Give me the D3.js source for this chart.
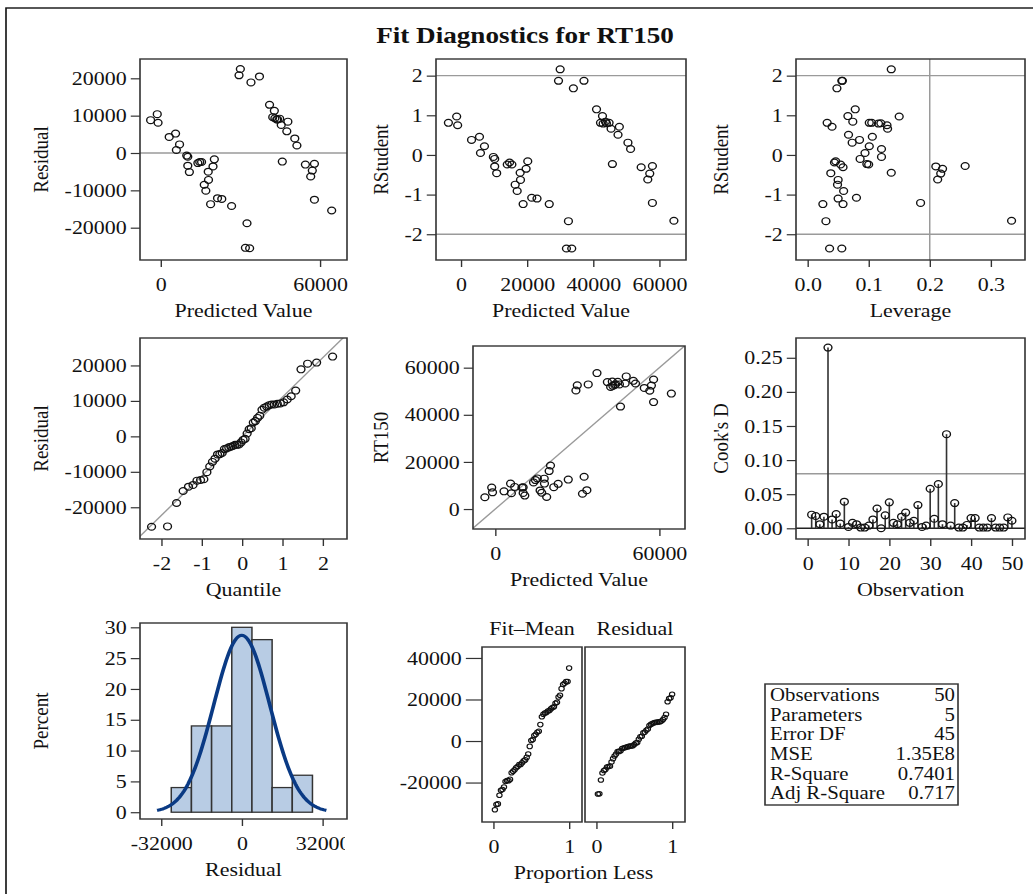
<!DOCTYPE html>
<html>
<head>
<meta charset="utf-8">
<title>Fit Diagnostics for RT150</title>
<style>
  body { margin: 0; background: #fff; }
  svg text { font-family: "Liberation Serif", "Times New Roman", serif; fill: #111; }
</style>
</head>
<body>
<script src="https://cdn.jsdelivr.net/npm/d3@7"></script>
<script>
// ---- values ----
var predicted = [-3800, -1300, -1000, 3200, 5600, 7100, 5900, 9800, 10200, 10200,
  10800, 14000, 14700, 15400, 20200, 19700, 17900, 18000, 16400, 17000,
  18800, 21400, 23000, 26700, 29500, 30000, 34000, 37200, 32500, 31900,
  33500, 41000, 42800, 42200, 43000, 43700, 44800, 45400, 47900, 47500,
  50500, 51300, 45800, 54500, 57900, 57100, 56500, 57900, 64400, 44000];
var residual = [8800, 10400, 8100, 4300, 5200, 2300, 800, -700, -1000, -3400,
  -5100, -2700, -2400, -2400, -1700, -3600, -5000, -7200, -8500, -10100,
  -13700, -12100, -12300, -14200, 20800, 22500, 18900, 20500, -18800, -25400,
  -25500, 12900, 11300, 9600, 9300, 9000, 9200, 7500, 8400, 5800,
  3900, 2000, -2300, -3100, -2900, -4700, -6300, -12500, -15400, 9000];
var rstudent = [0.81, 0.97, 0.75, 0.38, 0.46, 0.22, 0.05, -0.05, -0.10, -0.29,
  -0.46, -0.24, -0.19, -0.24, -0.16, -0.35, -0.45, -0.63, -0.75, -0.91,
  -1.24, -1.08, -1.10, -1.24, 1.87, 2.16, 1.68, 1.87, -1.67, -2.36,
  -2.36, 1.15, 0.98, 0.81, 0.79, 0.84, 0.81, 0.66, 0.71, 0.51,
  0.31, 0.15, -0.23, -0.31, -0.28, -0.47, -0.62, -1.21, -1.66, 0.80];
var leverage = [0.032, 0.150, 0.130, 0.085, 0.106, 0.101, 0.094, 0.121, 0.086, 0.210,
  0.038, 0.100, 0.044, 0.054, 0.046, 0.221, 0.137, 0.050, 0.049, 0.059,
  0.058, 0.080, 0.050, 0.025, 0.056, 0.137, 0.048, 0.057, 0.030, 0.036,
  0.056, 0.078, 0.066, 0.101, 0.116, 0.074, 0.105, 0.131, 0.040, 0.067,
  0.073, 0.121, 0.097, 0.058, 0.258, 0.218, 0.213, 0.185, 0.334, 0.120];
// Cook's D by observation number 1..50
var cooksD = [0.020, 0.018, 0.006, 0.017, 0.265, 0.013, 0.021, 0.007, 0.039, 0.002,
  0.008, 0.006, 0.001, 0.001, 0.004, 0.013, 0.029, 0.000, 0.019, 0.038,
  0.008, 0.006, 0.017, 0.023, 0.008, 0.011, 0.034, 0.002, 0.004, 0.058,
  0.014, 0.065, 0.006, 0.138, 0.004, 0.037, 0.001, 0.001, 0.005, 0.015,
  0.015, 0.001, 0.001, 0.001, 0.015, 0.001, 0.001, 0.001, 0.016, 0.011];
var histEdges = [-28000, -20000, -12000, -4000, 4000, 12000, 20000, 28000];
var statLabels = ["Observations", "Parameters", "Error DF", "MSE", "R-Square", "Adj R-Square"];
var statValues = ["50", "5", "45", "1.35E8", "0.7401", "0.717"];

var residTicks = [-20000, -10000, 0, 10000, 20000];
var predTicks = [0, 60000];
var predTicks4 = [0, 20000, 40000, 60000];
var rstudTicks = [-2, -1, 0, 1, 2];
var levTicks = [0, 0.1, 0.2, 0.3];
var quantTicks = [-2, -1, 0, 1, 2];
var rt150Ticks = [0, 20000, 40000, 60000];
var cookTicks = [0, 0.05, 0.1, 0.15, 0.2, 0.25];
var obsTicks = [0, 10, 20, 30, 40, 50];
var pctTicks = [0, 5, 10, 15, 20, 25, 30];
var histTicks = [-32000, 0, 32000];
var rfTicks = [-20000, 0, 20000, 40000];
var propTicks = [0, 1];

// ---- page ----
var width = 1033, height = 894, kx = 1.155;
function X(v) { return v / kx; }
var FS = 19;
var plain = function(d) { return String(d); };

var svg = d3.select("body").append("svg")
    .attr("width", width)
    .attr("height", height)
    .attr("viewBox", [0, 0, width / kx, height].join(" "))
    .attr("preserveAspectRatio", "none");

svg.append("rect")
    .attr("x", X(6)).attr("y", 8)
    .attr("width", X(1100)).attr("height", 1000)
    .attr("fill", "none").attr("stroke", "#111").attr("stroke-width", 1.4);

svg.append("text")
    .attr("x", X(525)).attr("y", 43)
    .attr("text-anchor", "middle")
    .attr("font-size", 23.5).attr("font-weight", "bold")
    .text("Fit Diagnostics for RT150");

function styleAxis(ax) {
  ax.select(".domain").remove();
  ax.attr("font-size", FS).attr("font-family", null);
  ax.selectAll("line").attr("stroke", "#333").attr("stroke-width", 1.2);
  ax.selectAll("text").attr("fill", "#111");
}

var clipId = 0;
function panel(o) {
  var g = svg.append("g");
  var x = d3.scaleLinear().domain(o.xDomain).range([X(o.left), X(o.right)]);
  var y = d3.scaleLinear().domain(o.yDomain).range([o.bottom, o.top]);
  var id = "clip" + (clipId++);
  svg.append("clipPath").attr("id", id).append("rect")
      .attr("x", X(o.left)).attr("y", o.top)
      .attr("width", X(o.right) - X(o.left)).attr("height", o.bottom - o.top);
  var back = g.append("g").attr("clip-path", "url(#" + id + ")");
  var plot = g.append("g");

  if (o.xTicks) {
    var ax = g.append("g").attr("transform", "translate(0," + o.bottom + ")")
        .call(d3.axisBottom(x).tickValues(o.xTicks).tickFormat(o.xFmt || plain)
          .tickSize(7).tickPadding(10.5));
    styleAxis(ax);
    if (o.xTextClip) {
      // the last label is cut at the cell edge in the original
      var cid = "clip" + (clipId++);
      svg.append("clipPath").attr("id", cid).append("rect")
          .attr("x", 0).attr("y", 0).attr("width", X(o.xTextClip)).attr("height", height);
      ax.attr("clip-path", "url(#" + cid + ")");
    }
  }
  if (o.yTicks) {
    var ay = g.append("g").attr("transform", "translate(" + X(o.left) + ",0)")
        .call(d3.axisLeft(y).tickValues(o.yTicks).tickFormat(o.yFmt || plain)
          .tickSize(o.yTickLen || 8).tickPadding(3.5));
    styleAxis(ay);
  }
  g.append("rect")
      .attr("x", X(o.left)).attr("y", o.top)
      .attr("width", X(o.right) - X(o.left)).attr("height", o.bottom - o.top)
      .attr("fill", "none").attr("stroke", "#333").attr("stroke-width", 1.4);
  if (o.xLabel) {
    g.append("text")
        .attr("x", (X(o.left) + X(o.right)) / 2).attr("y", o.bottom + 57)
        .attr("text-anchor", "middle").attr("font-size", FS)
        .text(o.xLabel);
  }
  if (o.yLabel) {
    g.append("text")
        .attr("transform", "translate(" + X(o.yLabelX) + "," + (o.top + o.bottom) / 2 + ") rotate(-90)")
        .attr("text-anchor", "middle").attr("dy", "0.35em").attr("font-size", FS)
        .text(o.yLabel);
  }
  return { x: x, y: y, back: back, plot: plot };
}

function hline(p, v) {
  var xr = p.x.range();
  p.back.append("line")
      .attr("x1", xr[0]).attr("x2", xr[1])
      .attr("y1", p.y(v)).attr("y2", p.y(v))
      .attr("stroke", "#9a9a9a").attr("stroke-width", 1.3);
}
function vline(p, v) {
  var yr = p.y.range();
  p.back.append("line")
      .attr("x1", p.x(v)).attr("x2", p.x(v))
      .attr("y1", yr[0]).attr("y2", yr[1])
      .attr("stroke", "#9a9a9a").attr("stroke-width", 1.3);
}
function markers(p, pts, r, sw) {
  p.plot.selectAll("circle").data(pts).join("circle")
      .attr("cx", function(d) { return p.x(d[0]); })
      .attr("cy", function(d) { return p.y(d[1]); })
      .attr("r", r || 3.4)
      .attr("fill", "none").attr("stroke", "#111").attr("stroke-width", sw || 1.2);
}

var n = residual.length;
var obs = predicted.map(function(d, i) { return { pred: d, res: residual[i], rs: rstudent[i], lev: leverage[i] }; });

// Residual vs predicted
var p1 = panel({ left: 140, right: 347, top: 59, bottom: 260,
  xDomain: [-7800, 70170], yDomain: [-28650, 25170],
  xTicks: predTicks, yTicks: residTicks,
  xLabel: "Predicted Value", yLabel: "Residual", yLabelX: 40 });
hline(p1, 0);
markers(p1, obs.map(function(d) { return [d.pred, d.res]; }));

// RStudent vs predicted
var p2 = panel({ left: 436, right: 686, top: 59, bottom: 260,
  xDomain: [-7550, 68060], yDomain: [-2.65, 2.42],
  xTicks: predTicks4, yTicks: rstudTicks,
  xLabel: "Predicted Value", yLabel: "RStudent", yLabelX: 380 });
hline(p2, 2); hline(p2, -2);
markers(p2, obs.map(function(d) { return [d.pred, d.rs]; }));

// RStudent vs leverage
var p3 = panel({ left: 796, right: 1025, top: 59, bottom: 260,
  xDomain: [-0.019, 0.356], yDomain: [-2.65, 2.42],
  xTicks: levTicks, yTicks: rstudTicks,
  xFmt: function(d) { return d.toFixed(1); },
  xLabel: "Leverage", yLabel: "RStudent", yLabelX: 720 });
hline(p3, 2); hline(p3, -2); vline(p3, 0.2);
markers(p3, obs.map(function(d) { return [d.lev, d.rs]; }));

// Normal quantile plot of residuals
function qnorm(p) {
  var a = [-39.69683028665376, 220.9460984245205, -275.9285104469687, 138.3577518672690, -30.66479806614716, 2.506628277459239];
  var b = [-54.47609879822406, 161.5858368580409, -155.6989798598866, 66.80131188771972, -13.28068155288572];
  var c = [-0.007784894002430293, -0.3223964580411365, -2.400758277161838, -2.549732539343734, 4.374664141464968, 2.938163982698783];
  var dd = [0.007784695709041462, 0.3224671290700398, 2.445134137142996, 3.754408661907416];
  var q, r;
  if (p < 0.02425) {
    q = Math.sqrt(-2 * Math.log(p));
    return (((((c[0]*q+c[1])*q+c[2])*q+c[3])*q+c[4])*q+c[5]) / ((((dd[0]*q+dd[1])*q+dd[2])*q+dd[3])*q+1);
  }
  if (p > 1 - 0.02425) {
    q = Math.sqrt(-2 * Math.log(1 - p));
    return -(((((c[0]*q+c[1])*q+c[2])*q+c[3])*q+c[4])*q+c[5]) / ((((dd[0]*q+dd[1])*q+dd[2])*q+dd[3])*q+1);
  }
  q = p - 0.5; r = q * q;
  return (((((a[0]*r+a[1])*r+a[2])*r+a[3])*r+a[4])*r+a[5])*q / (((((b[0]*r+b[1])*r+b[2])*r+b[3])*r+b[4])*r+1);
}
var resSorted = residual.slice().sort(d3.ascending);
var resMean = d3.mean(residual), resSd = d3.deviation(residual);
var p4 = panel({ left: 140, right: 347, top: 338, bottom: 539,
  xDomain: [-2.53, 2.60], yDomain: [-28950, 27740],
  xTicks: quantTicks, yTicks: residTicks,
  xLabel: "Quantile", yLabel: "Residual", yLabelX: 40 });
p4.back.append("line")
    .attr("x1", p4.x(-3)).attr("y1", p4.y(resMean - 3 * resSd))
    .attr("x2", p4.x(3)).attr("y2", p4.y(resMean + 3 * resSd))
    .attr("stroke", "#9a9a9a").attr("stroke-width", 1.3);
markers(p4, resSorted.map(function(d, i) { return [qnorm((i + 1 - 0.375) / (n + 0.25)), d]; }));

// Observed vs predicted
var p5 = panel({ left: 473, right: 685, top: 346, bottom: 529,
  xDomain: [-8140, 69390], yDomain: [-8470, 69200],
  xTicks: predTicks, yTicks: rt150Ticks,
  xLabel: "Predicted Value", yLabel: "RT150", yLabelX: 380 });
p5.back.append("line")
    .attr("x1", p5.x(-20000)).attr("y1", p5.y(-20000))
    .attr("x2", p5.x(80000)).attr("y2", p5.y(80000))
    .attr("stroke", "#9a9a9a").attr("stroke-width", 1.3);
markers(p5, obs.map(function(d) { return [d.pred, d.pred + d.res]; }));

// Cook's D
var p6 = panel({ left: 796, right: 1025, top: 338, bottom: 539,
  xDomain: [-2.83, 53.2], yDomain: [-0.0157, 0.279],
  xTicks: obsTicks, yTicks: cookTicks,
  yFmt: function(d) { return d.toFixed(2); },
  xLabel: "Observation", yLabel: "Cook's D", yLabelX: 720 });
hline(p6, 4 / n);
p6.back.append("line")
    .attr("x1", p6.x.range()[0]).attr("x2", p6.x.range()[1])
    .attr("y1", p6.y(0)).attr("y2", p6.y(0))
    .attr("stroke", "#222").attr("stroke-width", 1.4);
p6.plot.selectAll("line.needle").data(cooksD).join("line")
    .attr("class", "needle")
    .attr("x1", function(d, i) { return p6.x(i + 1); })
    .attr("x2", function(d, i) { return p6.x(i + 1); })
    .attr("y1", p6.y(0))
    .attr("y2", function(d) { return p6.y(d); })
    .attr("stroke", "#333").attr("stroke-width", 1.4);
p6.plot.selectAll("circle").data(cooksD).join("circle")
    .attr("cx", function(d, i) { return p6.x(i + 1); })
    .attr("cy", function(d) { return p6.y(d); })
    .attr("r", 3.4)
    .attr("fill", "none").attr("stroke", "#111").attr("stroke-width", 1.2);

// Histogram of residuals with normal density
var binW = histEdges[1] - histEdges[0];
var bins = d3.bin()
    .domain([histEdges[0], histEdges[histEdges.length - 1]])
    .thresholds(histEdges.slice(1, -1))(residual);
var p7 = panel({ left: 140, right: 347, top: 623, bottom: 819,
  xDomain: [-40400, 41700], yDomain: [-1.1, 30.7],
  xTicks: histTicks, yTicks: pctTicks, xTextClip: 345,
  xLabel: "Residual", yLabel: "Percent", yLabelX: 40 });
p7.plot.selectAll("rect").data(bins).join("rect")
    .attr("x", function(d) { return p7.x(d.x0); })
    .attr("width", function(d) { return p7.x(d.x1) - p7.x(d.x0); })
    .attr("y", function(d) { return p7.y(100 * d.length / n); })
    .attr("height", function(d) { return p7.y(0) - p7.y(100 * d.length / n); })
    .attr("fill", "#b8cce4").attr("stroke", "#333").attr("stroke-width", 1.3);
var curveX = d3.range(-60, 61).map(function(k) { return resMean + resSd * 3.02 * k / 60; });
var curve = d3.line()
    .x(function(v) { return p7.x(v); })
    .y(function(v) {
      var z = (v - resMean) / resSd;
      return p7.y(100 * binW * Math.exp(-0.5 * z * z) / (resSd * Math.sqrt(2 * Math.PI)));
    });
p7.plot.append("path").datum(curveX)
    .attr("d", curve)
    .attr("fill", "none").attr("stroke", "#0a3a84").attr("stroke-width", 3.2);

// Residual-fit spread plot
var obsMean = d3.mean(obs, function(d) { return d.pred + d.res; });
var fitSorted = predicted.map(function(d) { return d - obsMean; }).sort(d3.ascending);
var p8a = panel({ left: 482, right: 582, top: 647, bottom: 822,
  xDomain: [-0.15, 1.17], yDomain: [-39000, 45280],
  xTicks: propTicks, yTicks: rfTicks, yTickLen: 14 });
markers(p8a, fitSorted.map(function(d, i) { return [(i + 1) / n, d]; }), 2.3, 1);
var p8b = panel({ left: 585, right: 685, top: 647, bottom: 822,
  xDomain: [-0.15, 1.17], yDomain: [-39000, 45280],
  xTicks: propTicks });
markers(p8b, resSorted.map(function(d, i) { return [(i + 1) / n, d]; }), 2.3, 1);
svg.append("text").attr("x", X(532)).attr("y", 635).attr("text-anchor", "middle")
    .attr("font-size", FS).text("Fit\u2013Mean");
svg.append("text").attr("x", X(635)).attr("y", 635).attr("text-anchor", "middle")
    .attr("font-size", FS).text("Residual");
svg.append("text").attr("x", X(583.5)).attr("y", 879).attr("text-anchor", "middle")
    .attr("font-size", FS).text("Proportion Less");

// Fit statistics table
var tb = svg.append("g");
tb.append("rect")
    .attr("x", X(765)).attr("y", 684)
    .attr("width", X(958) - X(765)).attr("height", 121)
    .attr("fill", "none").attr("stroke", "#333").attr("stroke-width", 1.4);
tb.selectAll("text.lab").data(statLabels).join("text")
    .attr("class", "lab")
    .attr("x", X(770)).attr("y", function(d, i) { return 701 + i * 19.7; })
    .attr("font-size", 18).text(function(d) { return d; });
tb.selectAll("text.val").data(statValues).join("text")
    .attr("class", "val")
    .attr("x", X(955)).attr("y", function(d, i) { return 701 + i * 19.7; })
    .attr("text-anchor", "end")
    .attr("font-size", 18).text(function(d) { return d; });
</script>
</body>
</html>
